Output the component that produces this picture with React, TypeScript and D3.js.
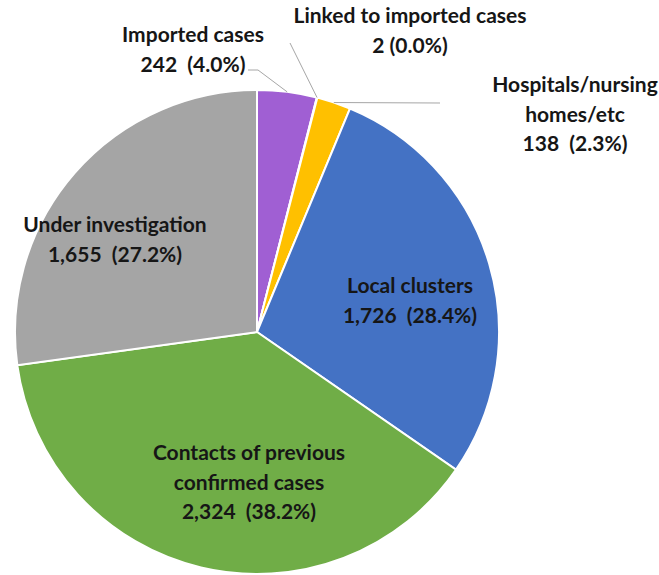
import React from "react";
import * as d3 from "d3";

const categories = [
  "Imported cases",
  "Linked to imported cases",
  "Hospitals/nursing homes/etc",
  "Local clusters",
  "Contacts of previous confirmed cases",
  "Under investigation",
];
const values = [242, 2, 138, 1726, 2324, 1655];
const percentLabels = ["4.0%", "0.0%", "2.3%", "28.4%", "38.2%", "27.2%"];
const colors = ["#A05FD3", "#C8C8C8", "#FFC000", "#4472C4", "#70AD47", "#A5A5A5"];

// label layout (text lines + anchor) kept separate from data
const labelLines = [
  ["Imported cases", "242  (4.0%)"],
  ["Linked to imported cases", "2 (0.0%)"],
  ["Hospitals/nursing", "homes/etc", "138  (2.3%)"],
  ["Local clusters", "1,726  (28.4%)"],
  ["Contacts of previous", "confirmed cases", "2,324  (38.2%)"],
  ["Under investigation", "1,655  (27.2%)"],
];
const labelPos: [number, number][] = [
  [193, 42],
  [410, 23],
  [575, 92],
  [410, 293],
  [249, 460],
  [115, 232],
];
// leader line start points (label side), null for inside labels
const leaderStart: ([number, number][] | null)[] = [
  [[248, 70], [258, 70]],
  [[290, 43]],
  [[440, 103]],
  null,
  null,
  null,
];

const W = 659;
const H = 575;
const cx = 257;
const cy = 332;
const R = 242;
const lineH = 29.5;

export default function App() {
  const pie = d3
    .pie<number>()
    .sort(null)
    .value((d) => d)
    .startAngle(0)
    .endAngle(2 * Math.PI);
  const arcs = pie(values);
  const arc = d3.arc<d3.PieArcDatum<number>>().innerRadius(0).outerRadius(R);
  const edgePoint = (a: d3.PieArcDatum<number>): [number, number] => {
    const m = (a.startAngle + a.endAngle) / 2;
    return [R * Math.sin(m), -R * Math.cos(m)];
  };
  const line = d3.line();

  return (
    <svg
      width={W}
      height={H}
      style={{ position: "absolute", left: 0, top: 0, background: "#fff" }}
      fontFamily="Lato, 'Open Sans', sans-serif"
    >
      <g transform={`translate(${cx},${cy})`}>
        {arcs.map((a, i) =>
          values[i] > 0 ? (
            <path
              key={categories[i]}
              d={arc(a) || ""}
              fill={colors[i]}
              stroke="#fff"
              strokeWidth={2}
            />
          ) : null
        )}
      </g>
      {arcs.map((a, i) => {
        const st = leaderStart[i];
        if (!st) return null;
        const [ex, ey] = edgePoint(a);
        const pts: [number, number][] = [...st, [cx + ex, cy + ey]];
        return (
          <path
            key={"l" + i}
            d={line(pts) || ""}
            fill="none"
            stroke="#A6A6A6"
            strokeWidth={1}
          />
        );
      })}
      {labelLines.map((lines, i) => (
        <text
          key={"t" + i}
          x={labelPos[i][0]}
          y={labelPos[i][1]}
          textAnchor="middle"
          fontSize={21}
          fontWeight="bold"
          fill="#161616"
        >
          {lines.map((ln, j) => (
            <tspan key={j} x={labelPos[i][0]} dy={j === 0 ? 0 : lineH} style={{ whiteSpace: "pre" }}>
              {ln}
            </tspan>
          ))}
        </text>
      ))}
    </svg>
  );
}
